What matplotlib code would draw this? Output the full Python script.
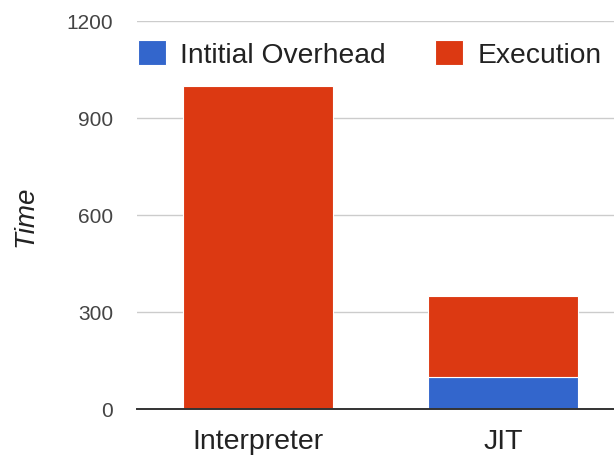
import matplotlib
matplotlib.use("Agg")
import matplotlib.pyplot as plt

categories = ["Interpreter", "JIT"]
overhead = [0, 100]
execution = [1000, 250]
series_names = ["Intitial Overhead", "Execution"]
yticks = [0, 300, 600, 900, 1200]

plt.rcParams["font.family"] = ["Liberation Sans", "DejaVu Sans"]

fig = plt.figure(figsize=(6.14, 4.6), dpi=100)
ax = fig.add_axes([0.2231, 0.1087, 0.7769, 0.8435])

x = list(range(len(categories)))
w = 0.613
ax.bar(x, overhead, w, color="#3366cc", edgecolor="white", linewidth=0.8, label=series_names[0], zorder=3)
ax.bar(x, execution, w, bottom=overhead, color="#dc3912", edgecolor="white", linewidth=0.8,
       label=series_names[1], zorder=3)

ax.set_xlim(-0.494, 1.453)
ax.set_ylim(0, 1200)
ax.set_yticks(yticks)
ax.set_yticklabels([str(v) for v in yticks])
ax.set_xticks(x)
ax.set_xticklabels(categories)
ax.tick_params(axis="y", length=0, pad=17, labelsize=15, labelcolor="#444444")
ax.tick_params(axis="x", length=0, pad=14, labelsize=20.5, labelcolor="#222222")
ax.yaxis.grid(True, color="#cccccc", linewidth=1, zorder=0)
for s in ["top", "right", "left"]:
    ax.spines[s].set_visible(False)
ax.spines["bottom"].set_color("#333333")
ax.spines["bottom"].set_linewidth(1.4)
ax.spines["bottom"].set_zorder(4)

ax.set_ylabel("Time", fontsize=20, style="italic", color="#222222", labelpad=20)

ax.legend(loc="center left", bbox_to_anchor=(0.002, 0.915), ncol=2, frameon=False,
          fontsize=20.3, handlelength=1.0, handleheight=1.0, handletextpad=0.5,
          columnspacing=1.75, borderaxespad=0, borderpad=0, labelcolor="#222222")

fig.savefig("out.png", dpi=100)
